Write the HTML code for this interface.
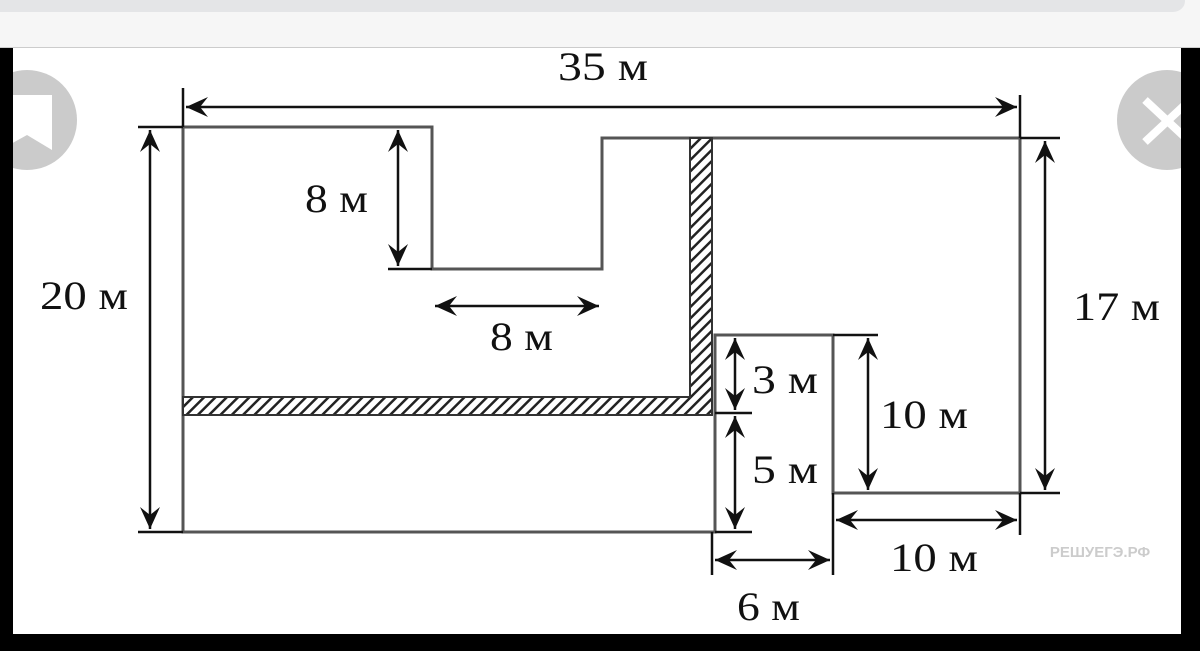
<!DOCTYPE html>
<html><head><meta charset="utf-8"><style>
html,body{margin:0;padding:0;width:1200px;height:651px;overflow:hidden;background:#000}
svg{display:block}
text{font-family:"Liberation Serif",serif;font-size:40px;fill:#111}
</style></head><body>
<svg width="1200" height="651" viewBox="0 0 1200 651" xmlns="http://www.w3.org/2000/svg">
<defs>
<marker id="a" markerUnits="userSpaceOnUse" markerWidth="30" markerHeight="24" refX="24" refY="12" orient="auto-start-reverse">
<path d="M24 12 L2 2 L10 12 L2 22 Z" fill="#111"/>
</marker>
<pattern id="h" width="8" height="8" patternUnits="userSpaceOnUse" patternTransform="rotate(45)">
<rect width="8" height="8" fill="#fff"/><rect width="2.5" height="8" fill="#222"/>
</pattern>
</defs>
<rect x="0" y="0" width="1200" height="651" fill="#000"/>
<rect x="0" y="0" width="1200" height="48" fill="#f6f6f6"/>
<rect x="-20" y="-10" width="1205" height="22" rx="12" fill="#e4e5e7"/>
<line x1="0" y1="47.5" x2="1200" y2="47.5" stroke="#ccc"/>
<rect x="13" y="48" width="1168" height="586" fill="#fff"/>
<circle cx="27" cy="120" r="50" fill="#cbcbcb"/>
<path d="M0 95 L52 95 L52 150 L27 135 L0 150Z" fill="#fff"/>
<circle cx="1167" cy="120" r="50" fill="#cbcbcb"/>
<path d="M1145 100 L1190 142 M1190 100 L1145 142" stroke="#fff" stroke-width="8"/>
<rect x="0" y="48" width="13" height="603" fill="#000"/>
<rect x="1181" y="48" width="19" height="603" fill="#000"/>
<rect x="0" y="634" width="1200" height="17" fill="#000"/>

<g fill="none" stroke="#555" stroke-width="3">
<path d="M183 127 H432 V269 H602 V138 H1020 V493 H833 V335 H715 V532 H183 Z"/>
</g>
<path d="M690 138 H712 V415 H183 V397 H690 Z" fill="url(#h)" stroke="#333" stroke-width="2"/>

<g stroke="#111" stroke-width="2.5" fill="none">
<line x1="183" y1="88" x2="183" y2="127"/><line x1="1020" y1="95" x2="1020" y2="138"/>
<line x1="186" y1="107" x2="1017" y2="107" marker-start="url(#a)" marker-end="url(#a)"/>
<line x1="138" y1="127" x2="183" y2="127"/><line x1="138" y1="532" x2="183" y2="532"/>
<line x1="150" y1="130" x2="150" y2="529" marker-start="url(#a)" marker-end="url(#a)"/>
<line x1="388" y1="269" x2="432" y2="269"/>
<line x1="398" y1="130" x2="398" y2="266" marker-start="url(#a)" marker-end="url(#a)"/>
<line x1="435" y1="306" x2="599" y2="306" marker-start="url(#a)" marker-end="url(#a)"/>
<line x1="1020" y1="138" x2="1060" y2="138"/><line x1="1020" y1="493" x2="1060" y2="493"/>
<line x1="1045" y1="141" x2="1045" y2="490" marker-start="url(#a)" marker-end="url(#a)"/>
<line x1="715" y1="413" x2="752" y2="413"/><line x1="715" y1="532" x2="752" y2="532"/>
<line x1="735" y1="338" x2="735" y2="410" marker-start="url(#a)" marker-end="url(#a)"/>
<line x1="735" y1="416" x2="735" y2="529" marker-start="url(#a)" marker-end="url(#a)"/>
<line x1="833" y1="335" x2="878" y2="335"/>
<line x1="868" y1="338" x2="868" y2="490" marker-start="url(#a)" marker-end="url(#a)"/>
<line x1="833" y1="493" x2="833" y2="575"/><line x1="1020" y1="493" x2="1020" y2="535"/>
<line x1="836" y1="520" x2="1017" y2="520" marker-start="url(#a)" marker-end="url(#a)"/>
<line x1="712" y1="532" x2="712" y2="575"/>
<line x1="715" y1="560" x2="830" y2="560" marker-start="url(#a)" marker-end="url(#a)"/>
</g>

<g>
<text x="558" y="80" textLength="90" lengthAdjust="spacingAndGlyphs">35 м</text>
<text x="40" y="309" textLength="88" lengthAdjust="spacingAndGlyphs">20 м</text>
<text x="305" y="212" textLength="63" lengthAdjust="spacingAndGlyphs">8 м</text>
<text x="490" y="350" textLength="63" lengthAdjust="spacingAndGlyphs">8 м</text>
<text x="1073" y="320" textLength="87" lengthAdjust="spacingAndGlyphs">17 м</text>
<text x="752" y="393" textLength="66" lengthAdjust="spacingAndGlyphs">3 м</text>
<text x="752" y="483" textLength="66" lengthAdjust="spacingAndGlyphs">5 м</text>
<text x="880" y="428" textLength="88" lengthAdjust="spacingAndGlyphs">10 м</text>
<text x="890" y="571" textLength="88" lengthAdjust="spacingAndGlyphs">10 м</text>
<text x="737" y="620" textLength="63" lengthAdjust="spacingAndGlyphs">6 м</text>
</g>
<text x="1100" y="557" text-anchor="middle" style="font-family:'Liberation Sans',sans-serif;font-size:15px;font-weight:bold;fill:#ccc">РЕШУЕГЭ.РФ</text>
</svg>
</body></html>
